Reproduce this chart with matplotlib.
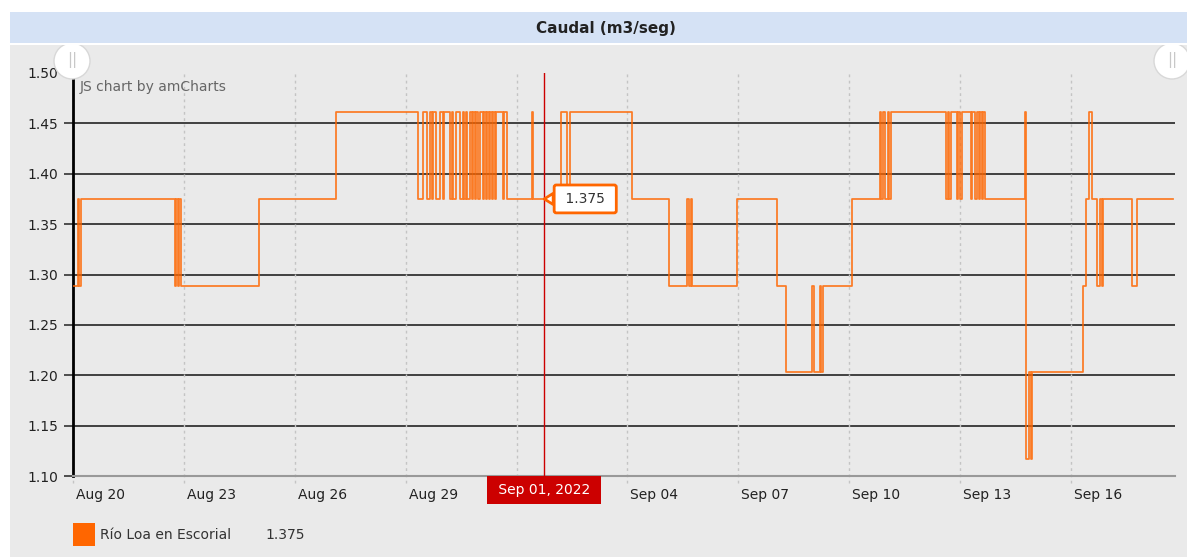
import matplotlib
matplotlib.use("Agg")
import matplotlib.pyplot as plt
import matplotlib.dates as mdates
from matplotlib.patches import Rectangle, Ellipse
from matplotlib.transforms import ScaledTranslation, blended_transform_factory
from datetime import datetime
import numpy as np

# ---------------------------------------------------------------------------
# Data
# hours since 2022-08-20 00:00 where the flow changes, and the new value
# ---------------------------------------------------------------------------
START = datetime(2022, 8, 20)

event_hours = [
    0, 3, 4, 5, 66, 67, 68, 69, 70, 121, 171,
    224, 227, 230, 232, 233, 234, 236, 238, 240, 241, 245, 246, 247, 249,
    251, 253, 254, 255, 256, 258, 259, 260, 261, 262, 263, 264, 266, 267,
    268, 269, 270, 271, 272, 273, 274, 275, 279, 280, 282, 298, 299,
    317, 321, 323, 363, 387, 399, 400, 401, 402, 431, 457, 463,
    480, 481, 485, 486, 487, 506, 524, 525, 526, 527, 529, 530, 531,
    567, 568, 569, 570, 574, 575, 576, 577, 583, 584, 586, 587, 588, 589,
    590, 591, 592, 618, 619, 621, 622, 623, 656, 658, 660, 662, 665, 667,
    668, 669, 688, 691, 714,
]
event_values = [
    1.289, 1.375, 1.289, 1.375, 1.289, 1.375, 1.289, 1.375, 1.289, 1.375, 1.461,
    1.375, 1.461, 1.375, 1.461, 1.375, 1.461, 1.375, 1.461, 1.375, 1.461, 1.375, 1.461, 1.375, 1.461,
    1.375, 1.461, 1.375, 1.461, 1.375, 1.461, 1.375, 1.461, 1.375, 1.461, 1.375, 1.461, 1.375, 1.461,
    1.375, 1.461, 1.375, 1.461, 1.375, 1.461, 1.375, 1.461, 1.375, 1.461, 1.375, 1.461, 1.375,
    1.461, 1.375, 1.461, 1.375, 1.289, 1.375, 1.289, 1.375, 1.289, 1.375, 1.289, 1.203,
    1.289, 1.203, 1.289, 1.203, 1.289, 1.375, 1.461, 1.375, 1.461, 1.375, 1.461, 1.375, 1.461,
    1.375, 1.461, 1.375, 1.461, 1.375, 1.461, 1.375, 1.461, 1.375, 1.461, 1.375, 1.461, 1.375, 1.461,
    1.375, 1.461, 1.375, 1.461, 1.117, 1.203, 1.117, 1.203, 1.289, 1.375, 1.461, 1.375, 1.289, 1.375,
    1.289, 1.375, 1.289, 1.375, 1.375,
]

tick_days = [0, 3, 6, 9, 12, 15, 18, 21, 24, 27]
tick_labels = ["Aug 20", "Aug 23", "Aug 26", "Aug 29", "Sep 01",
               "Sep 04", "Sep 07", "Sep 10", "Sep 13", "Sep 16"]
y_ticks = [1.10, 1.15, 1.20, 1.25, 1.30, 1.35, 1.40, 1.45, 1.50]

cursor_hour = 306
cursor_value = 1.375
cursor_label = "Sep 01, 2022"
series_name = "Río Loa en Escorial"
title = "Caudal (m3/seg)"

ORANGE = "#FF6600"
RED = "#CC0000"

# ---------------------------------------------------------------------------
W, H = 1187, 557
fig = plt.figure(figsize=(W / 100, H / 100), dpi=100, facecolor="white")


def fx(px):
    return px / W


def fy(py):
    return 1 - py / H


# background panel + title bar
panel = Rectangle((fx(10), 0), 1 - fx(10), fy(45), transform=fig.transFigure,
                  fc="#EAEAEA", ec="none", zorder=-5)
fig.patches.append(panel)
bar = Rectangle((fx(10), fy(43)), 1 - fx(10), fy(12) - fy(43), transform=fig.transFigure,
                fc="#D5E2F5", ec="none", zorder=-5)
fig.patches.append(bar)
fig.text(fx(606), fy(28), title, ha="center", va="center", fontsize=11,
         fontweight="bold", color="#222222")

# plot area
ax = fig.add_axes([fx(73), fy(476), fx(1175) - fx(73), fy(73) - fy(476)])
ax.set_facecolor("none")

t0 = mdates.date2num(START)
x = t0 + np.array(event_hours) / 24.0
ax.step(x, event_values, where="post", color=ORANGE, lw=1.25, alpha=0.85, zorder=3)

ax.set_xlim(t0, t0 + 715.6 / 24.0)
ax.set_ylim(1.10, 1.50)

# horizontal grid
for yv in y_ticks[1:-1]:
    ax.axhline(yv, color="#333333", lw=1.3, zorder=1)

# vertical dotted grid (extends a bit below the axis)
tick_x = t0 + np.array(tick_days)
ax.vlines(tick_x, -0.018, 1, transform=blended_transform_factory(ax.transData, ax.transAxes),
          colors="#C4C4C4", lw=1, linestyles=(0, (2, 2.5)), clip_on=False, zorder=1)

ax.set_xticks(tick_x)
ax.set_xticklabels(tick_labels, ha="left", fontsize=10, color="#222222")
ax.tick_params(axis="x", length=0, pad=9)
shift = ScaledTranslation(3 / 100, 0, fig.dpi_scale_trans)
for lab in ax.get_xticklabels():
    lab.set_transform(lab.get_transform() + shift)
    # the cursor balloon sits on top of this label in the original
    if lab.get_text() == tick_labels[4]:
        lab.set_visible(False)

ax.set_yticks(y_ticks)
ax.set_yticklabels([f"{v:.2f}" for v in y_ticks], fontsize=10, color="#222222")
ax.tick_params(axis="y", length=6.5, width=1.2, color="#333333", pad=4)

for s in ["top", "right"]:
    ax.spines[s].set_visible(False)
ax.spines["left"].set_color("black")
ax.spines["left"].set_linewidth(2)
ax.spines["bottom"].set_color("#999999")
ax.spines["bottom"].set_linewidth(1.5)

# cursor
xc = t0 + cursor_hour / 24.0
ax.axvline(xc, color=RED, lw=1, zorder=4)
ax.annotate(" " + cursor_label + " ", xy=(xc, 0),
            xycoords=blended_transform_factory(ax.transData, ax.transAxes),
            xytext=(0, -14), textcoords="offset pixels", ha="center", va="center",
            fontsize=10, color="white", zorder=10, annotation_clip=False,
            bbox=dict(boxstyle="square,pad=0.5", fc=RED, ec="none"))
ax.annotate(f" {cursor_value:.3f} ", xy=(xc, cursor_value), xytext=(41, 0),
            textcoords="offset pixels", ha="center", va="center", fontsize=10,
            color="#333333", zorder=11,
            bbox=dict(boxstyle="round,pad=0.5,rounding_size=0.15", fc="white", ec=ORANGE, lw=2),
            arrowprops=dict(arrowstyle="wedge,tail_width=0.8,shrink_factor=0.5", fc="white",
                            ec=ORANGE, lw=2, shrinkA=0, shrinkB=0))

fig.text(fx(80), fy(87), "JS chart by amCharts", ha="left", va="center",
         fontsize=10, color="#666666")

# scrollbar grips
for cx in (72, 1172):
    grip = Ellipse((fx(cx), fy(61)), 36 / W, 36 / H, transform=fig.transFigure,
                   fc="white", ec="#D8D8D8", lw=1, zorder=5)
    fig.patches.append(grip)
    grip.set_clip_path(panel)
    fig.text(fx(cx), fy(60), "||", ha="center", va="center", fontsize=11,
             color="#C8C8C8", zorder=6)

# legend
fig.patches.append(Rectangle((fx(73), fy(546)), fx(95) - fx(73), fy(523) - fy(546),
                             transform=fig.transFigure, fc=ORANGE, ec="none", zorder=2))
fig.text(fx(100), fy(535), series_name, ha="left", va="center", fontsize=10, color="#333333")
fig.text(fx(265), fy(535), f"{cursor_value:.3f}", ha="left", va="center", fontsize=10,
         color="#333333")

fig.savefig("out.png", dpi=100)
